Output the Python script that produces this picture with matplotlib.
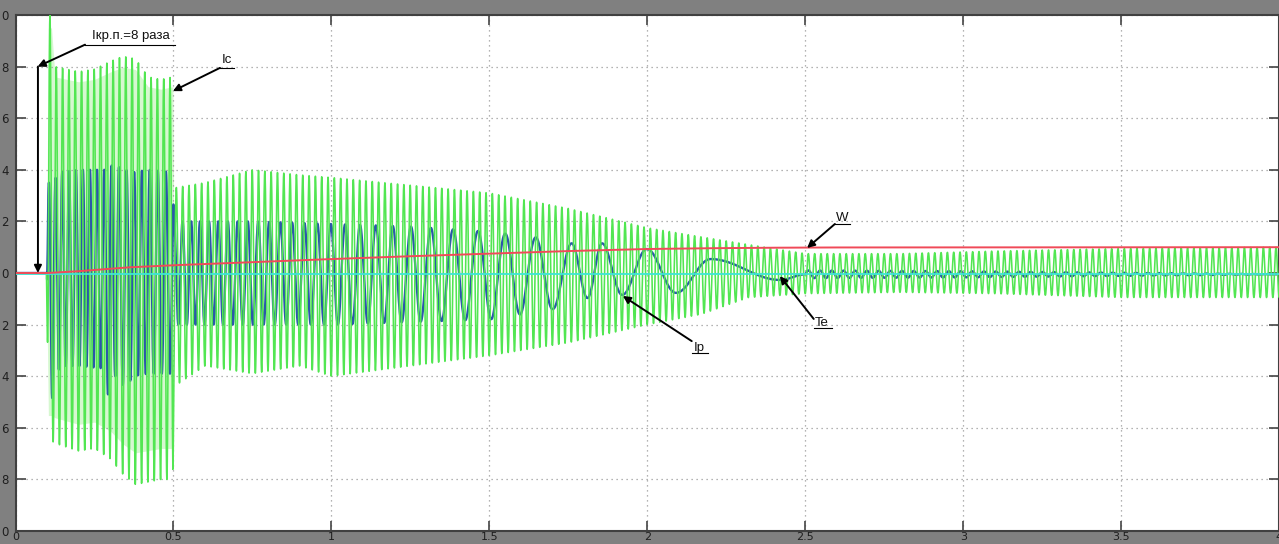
import numpy as np
import matplotlib
matplotlib.use("Agg")
import matplotlib.pyplot as plt

# --- data ---
# Ic (stator current): 50 Hz, envelope of upper / lower peaks
ic_t  = [0.0, 0.098, 0.104, 0.114, 0.125, 0.2, 0.25, 0.3, 0.34, 0.38, 0.42, 0.46, 0.498,
         0.502, 0.6, 0.75, 0.9, 1.0, 1.25, 1.5, 1.75, 2.0, 2.17, 2.32, 2.5, 2.8, 3.1, 3.5, 4.0]
ic_up = [0.0, 0.0, 10.0, 10.0, 8.0, 7.8, 7.9, 8.2, 8.4, 8.3, 7.6, 7.5, 7.6,
         3.3, 3.5, 4.0, 3.8, 3.7, 3.4, 3.1, 2.5, 1.75, 1.4, 1.1, 0.75, 0.75, 0.85, 0.95, 1.0]
ic_lo = [0.0, 0.0, -6.5, -6.5, -6.6, -6.9, -6.8, -7.2, -7.8, -8.2, -8.1, -8.0, -8.0,
         -4.4, -3.6, -3.9, -3.6, -4.0, -3.6, -3.2, -2.7, -2.0, -1.6, -0.95, -0.8, -0.75, -0.8, -0.95, -0.95]
ic_freq = 50.0
ic_first_peak = 0.109

# Ip (rotor current): envelope and frequency during run-up
ip_t  = [0.0, 0.098, 0.104, 0.115, 0.14, 0.2, 0.28, 0.30, 0.315, 0.33, 0.347, 0.37, 0.42, 0.498,
         0.502, 0.75, 1.0, 1.25, 1.5, 1.7]
ip_up = [0.0, 0.0, 3.5, 3.5, 3.9, 4.0, 4.0, 4.0, 4.6, 4.0, 4.0, 3.9, 4.0, 3.9,
         2.0, 2.0, 1.9, 1.8, 1.6, 1.3]
ip_lo = [0.0, 0.0, -4.9, -4.9, -3.6, -3.6, -3.7, -5.3, -4.0, -4.0, -4.6, -4.0, -3.9, -3.9,
         -2.0, -2.0, -2.0, -1.9, -1.8, -1.4]
ipf_t = [0.1, 0.5, 0.95, 1.4, 1.7]
ipf   = [48.0, 38.0, 24.0, 13.0, 9.0]
# Ip slow swings (peak / trough times and values)
ipx_t = [1.70, 1.76, 1.81, 1.856, 1.92, 1.998, 2.09, 2.20, 2.42, 2.5]
ipx_v = [-1.4, 1.15, -0.97, 1.15, -0.85, 0.93, -0.77, 0.54, -0.27, -0.05]
# Ip small ripple after run-up
rip_t = [2.5, 3.0, 3.5, 3.85, 4.0]
rip_a = [0.15, 0.12, 0.06, 0.02, 0.0]
rip_freq = 27.0

# W (speed)
w_t = [0.0, 0.1, 0.2, 0.36, 0.5, 0.75, 1.0, 1.25, 1.5, 1.75, 2.0, 2.2, 2.4, 2.6, 4.0]
w_v = [0.0, 0.0, 0.07, 0.22, 0.3, 0.42, 0.54, 0.65, 0.75, 0.85, 0.93, 0.96, 0.98, 0.99, 1.0]

# Te (torque)
te_t = [0.0, 4.0]
te_v = [-0.04, -0.04]

xticks = [0, 0.5, 1, 1.5, 2, 2.5, 3, 3.5, 4]
xlabels = ['0', '0.5', '1', '1.5', '2', '2.5', '3', '3.5', '4']
yticks = list(range(-10, 11, 2))
ylabels = ['0', '8', '6', '4', '2', '0', '2', '4', '6', '8', '0']

# --- build waveforms ---
t = np.linspace(0, 4, 80001)
dt = t[1] - t[0]

c = np.cos(2 * np.pi * ic_freq * (t - ic_first_peak))
up = np.interp(t, ic_t, ic_up)
lo = np.interp(t, ic_t, ic_lo)
ic = np.where(c >= 0, up * c, -lo * c)

# Ip: fast part up to first slow swing
f = np.interp(t, ipf_t, ipf)
ph = 2 * np.pi * np.cumsum(f) * dt
k0 = np.searchsorted(t, ipx_t[0])
ph = ph - ph[k0] + np.pi
cb = np.cos(ph)
ip = np.where(cb >= 0, np.interp(t, ip_t, ip_up) * cb, -np.interp(t, ip_t, ip_lo) * cb)
ip[t < 0.1] = 0.0
# slow swings, half-cosine between extremes
for i in range(len(ipx_t) - 1):
    t0, t1 = ipx_t[i], ipx_t[i + 1]
    m = (t >= t0) & (t <= t1)
    s = (1 - np.cos(np.pi * (t[m] - t0) / (t1 - t0))) / 2
    ip[m] = ipx_v[i] + (ipx_v[i + 1] - ipx_v[i]) * s
m = t > ipx_t[-1]
ip[m] = ipx_v[-1] + np.interp(t[m], rip_t, rip_a) * np.sin(2 * np.pi * rip_freq * (t[m] - ipx_t[-1]))

# --- figure ---
fig = plt.figure(figsize=(12.79, 5.44), dpi=100, facecolor='#808080')
ax = fig.add_axes([15.5 / 1279, 13 / 544, 1264 / 1279, 516 / 544])
ax.set_facecolor('white')

# light haze of the dense starting current
early = (t >= 0.1) & (t <= 0.5)
ax.fill_between(t[early], lo[early] * 0.85, up[early] * 0.95, color='#d6f8d0', lw=0, zorder=1)

ax.plot(t, ip, color='#2a58a8', lw=1.7, zorder=2)
ax.plot(t, ic, color='#52e652', lw=1.15, zorder=3)
ax.plot(te_t, te_v, color='#3ee6d6', lw=1.3, zorder=4)
ax.plot(w_t, w_v, color='#f04a58', lw=1.4, zorder=5)

ax.set_xlim(0, 4)
ax.set_ylim(-10, 10)
ax.set_xticks(xticks)
ax.set_xticklabels(xlabels)
ax.set_yticks(yticks)
ax.set_yticklabels(ylabels)
ax.tick_params(direction='in', length=7, width=1.2, color='#444444', top=True, right=True,
               labelcolor='#1e1e1e')
ax.tick_params(axis='y', pad=5, labelsize=8.5)
ax.tick_params(axis='x', pad=1, labelsize=8)
ax.grid(True, linestyle=(0, (1, 3)), color='#9a9a9a', lw=0.9)
for sp in ax.spines.values():
    sp.set_color('#404040')
    sp.set_linewidth(1.5)

arrow = dict(arrowstyle='-|>', color='black', lw=1.4, mutation_scale=11, shrinkA=0, shrinkB=0)
font = dict(family='Liberation Sans', fontsize=9.5, color='#111111')


def note(label, tip, tail, tx, ty, ux0, ux1, uy):
    ax.annotate('', xy=tip, xytext=tail, arrowprops=arrow, zorder=6)
    ax.text(tx, ty, label, ha='center', va='center', zorder=6, **font)
    ax.plot([ux0, ux1], [uy, uy], color='black', lw=0.8, zorder=6)


note('Iкр.п.=8 раза', (0.07, 8.0), (0.22, 8.85), 0.365, 9.2, 0.22, 0.505, 8.85)
ax.annotate('', xy=(0.071, 0.0), xytext=(0.071, 8.0), arrowprops=arrow, zorder=6)
note('Ic', (0.498, 7.05), (0.647, 7.95), 0.67, 8.25, 0.647, 0.69, 7.95)
note('W', (2.505, 0.97), (2.593, 1.9), 2.615, 2.15, 2.593, 2.64, 1.9)
note('Ip', (1.922, -0.89), (2.14, -2.64), 2.165, -2.9, 2.14, 2.19, -3.1)
note('Te', (2.419, -0.12), (2.526, -1.78), 2.552, -1.95, 2.526, 2.585, -2.15)

fig.savefig('out.png', dpi=100, facecolor=fig.get_facecolor())
